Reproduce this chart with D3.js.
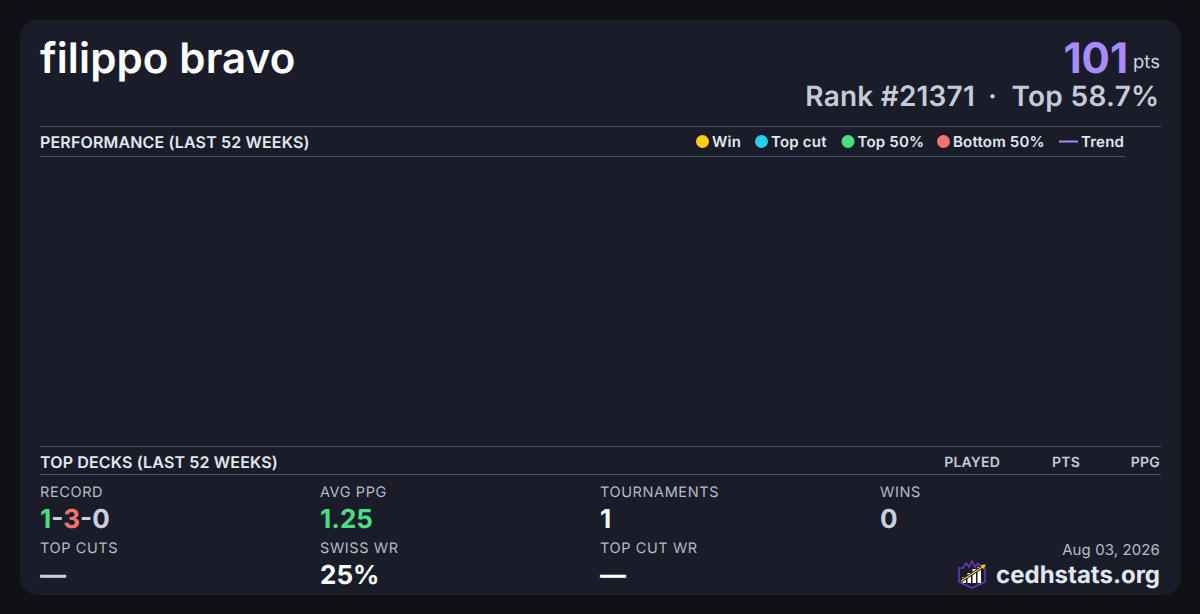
<!DOCTYPE html>
<html><head><meta charset="utf-8">
<script src="https://cdn.jsdelivr.net/npm/d3@7"></script>
<style>html,body{margin:0;padding:0;background:#0f1116;overflow:hidden}svg{display:block}text{font-family:Inter,sans-serif;text-rendering:geometricPrecision}</style>
</head><body><svg id="c" width="1200" height="614"></svg>
<script>
const playerName = "filippo bravo";
const points = "101";
const rankLine = ["Rank #21371", "·", "Top 58.7%"];
const legendLabels = ["Win","Top cut","Top 50%","Bottom 50%","Trend"];
const legendColors = ["#facc15","#22d3ee","#4ade80","#f87171","#a78bfa"];
const legendX = [696,755,841.5,937,1059];
const deckCols = ["PLAYED","PTS","PPG"];
const deckColX = [1000,1080,1160];
const statLabels = ["RECORD","AVG PPG","TOURNAMENTS","WINS","TOP CUTS","SWISS WR","TOP CUT WR"];
const statValues = ["1-3-0","1.25","1","0","—","25%","—"];
const statColors = ["#c9d0dc","#4ade80","#f1f5f9","#c9d0dc","#c9d0dc","#ffffff","#ffffff"];
const statX = [40,320,600,880,40,320,600];
const statRow = [0,0,0,0,1,1,1];
const recordParts = ["1","-","3","-","0"];
const recordColors = ["#4ade80","#c9d0dc","#f87171","#c9d0dc","#c9d0dc"];
const dateLabel = "Aug 03, 2026";
const site = "cedhstats.org";

const svg = d3.select("#c");
const txt = (x,y,s,size,weight,fill,anchor="start",ls=0) => svg.append("text").attr("x",x).attr("y",y).attr("font-size",size).attr("font-weight",weight).attr("fill",fill).attr("text-anchor",anchor).attr("letter-spacing",ls).text(s);
const rule = (x1,x2,y) => svg.append("line").attr("x1",x1).attr("x2",x2).attr("y1",y).attr("y2",y).attr("stroke","#475569").attr("stroke-width",1);

svg.append("rect").attr("x",20).attr("y",20).attr("width",1161).attr("height",575).attr("rx",18).attr("fill","#1a1d29");

txt(40,73,playerName,42,600,"#ffffff","start",0.15);
txt(1128,73,points,42,700,"#a78bfa","end");
txt(1160,68,"pts",18.5,400,"#cbd5e1","end");
txt(1159.5,106,rankLine[2],28,600,"#c5ccd9","end",0.3);
txt(992.5,106,rankLine[1],28,600,"#c5ccd9","middle");
txt(975,106,rankLine[0],28,600,"#c5ccd9","end",0.2);

rule(40,1161,126.5);
txt(40,147.5,"PERFORMANCE (LAST 52 WEEKS)",16,600,"#e2e8f0","start",0.15);
rule(40,1125,156.5);

legendLabels.forEach((l,i)=>{
  if(l==="Trend"){
    svg.append("line").attr("x1",legendX[i]).attr("x2",legendX[i]+19).attr("y1",141.5).attr("y2",141.5).attr("stroke",legendColors[i]).attr("stroke-width",2);
    txt(legendX[i]+22,147,l,15,600,"#e2e8f0","start",0.2);
  } else {
    svg.append("circle").attr("cx",legendX[i]+6.5).attr("cy",141.5).attr("r",6.5).attr("fill",legendColors[i]);
    txt(legendX[i]+16,147,l,15,600,"#e2e8f0","start",0.2);
  }
});

rule(40,1161,446.5);
txt(40,467.5,"TOP DECKS (LAST 52 WEEKS)",16,600,"#e2e8f0","start",0.15);
rule(40,1161,474.5);
deckCols.forEach((c,i)=>txt(deckColX[i],466.5,c,14,600,"#c5ccd9","end",0.2));

statLabels.forEach((l,i)=>{
  const top = statRow[i]===0?0:56;
  txt(statX[i],497+top,l,14.5,400,"#b4bcc8","start",0.6);
  if(i===0){
    const t = svg.append("text").attr("x",statX[i]).attr("y",528+top).attr("font-size",26).attr("font-weight",650);
    recordParts.forEach((p,j)=>t.append("tspan").attr("fill",recordColors[j]).text(p));
  } else {
    txt(statX[i],528+top,statValues[i],26,650,statColors[i]);
  }
});

txt(1160,555,dateLabel,15,400,"#b4bcc8","end",0.1);
txt(1160,583,site,24,700,"#e2e8f0","end");

// logo
const lg = svg.append("g").attr("transform","translate(958,560)");
lg.append("path").attr("d","M1 8 L5 8 L8 3 L11 7 L14 1 L17 7 L20 3 L23 8 L27 8 L27 22 L14 28 L1 22 Z").attr("fill","#1a1d29").attr("stroke","#6d3bb8").attr("stroke-width",1.5);
const barsH=[6,10,14,16];
barsH.forEach((h,i)=>lg.append("rect").attr("x",4.5+i*5).attr("y",23-h).attr("width",3.5).attr("height",h).attr("fill","#ffffff"));
lg.append("line").attr("x1",3).attr("y1",21).attr("x2",26).attr("y2",6).attr("stroke","#1a1d29").attr("stroke-width",3);
lg.append("line").attr("x1",3).attr("y1",21).attr("x2",26).attr("y2",6).attr("stroke","#facc15").attr("stroke-width",1.3);
lg.append("path").attr("d","M28 4.5 L22.5 5 L25.5 9 Z").attr("fill","#facc15");
</script></body></html>
